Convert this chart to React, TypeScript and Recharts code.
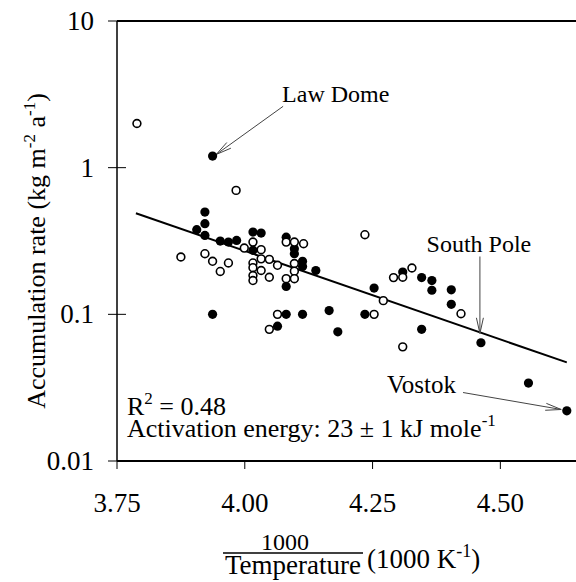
import React from 'react';
import { ScatterChart, Scatter, XAxis, YAxis, ReferenceLine } from 'recharts';

// filled circles (1000/T, accumulation)
const filledX = [3.937, 3.922, 3.922, 3.906, 3.922, 3.952, 3.968, 3.984, 4.016, 4.032, 4.016, 4.081, 4.097, 4.097, 4.113, 4.113, 4.081, 4.139, 3.937, 4.081, 4.113, 4.165, 4.235, 4.064, 4.182, 4.253, 4.309, 4.346, 4.366, 4.366, 4.404, 4.404, 4.346, 4.462, 4.555, 4.63];
const filledY = [1.2, 0.498, 0.415, 0.378, 0.345, 0.316, 0.311, 0.319, 0.364, 0.358, 0.273, 0.336, 0.28, 0.259, 0.23, 0.212, 0.155, 0.199, 0.1, 0.1, 0.1, 0.106, 0.1, 0.083, 0.076, 0.151, 0.194, 0.178, 0.17, 0.146, 0.147, 0.117, 0.079, 0.064, 0.034, 0.022];

// open circles
const openX = [3.789, 3.983, 3.999, 4.016, 4.032, 4.032, 4.048, 4.064, 4.016, 4.016, 4.016, 4.016, 4.032, 4.048, 3.875, 3.922, 3.937, 3.952, 3.968, 4.081, 4.097, 4.115, 4.097, 4.097, 4.097, 4.081, 4.235, 4.327, 4.291, 4.309, 4.423, 4.271, 4.064, 4.253, 4.048, 4.309];
const openY = [2.0, 0.7, 0.283, 0.311, 0.276, 0.239, 0.237, 0.216, 0.224, 0.208, 0.184, 0.17, 0.199, 0.179, 0.246, 0.259, 0.23, 0.196, 0.224, 0.311, 0.311, 0.303, 0.222, 0.197, 0.175, 0.175, 0.349, 0.207, 0.178, 0.179, 0.101, 0.124, 0.1, 0.1, 0.079, 0.06];

// regression line end points
const fitX = [3.787, 4.63];
const fitY = [0.489, 0.047];

const xTicks = [3.75, 4.0, 4.25, 4.5];
const yTicks = [0.01, 0.1, 1, 10];

// annotation arrows: [label, x1, y1, x2, y2]
const arrows: [string, number, number, number, number][] = [
  ['Law Dome', 4.075, 2.62, 3.944, 1.23],
  ['South Pole', 4.46, 0.248, 4.46, 0.0741],
  ['Vostok', 4.427, 0.0293, 4.619, 0.02245],
];

const filled = filledX.map((x, i) => ({ x, y: filledY[i] }));
const open = openX.map((x, i) => ({ x, y: openY[i] }));

const FONT = 'Liberation Serif, DejaVu Serif, serif';
const serif = { fontFamily: FONT };

const YTick = (props: any) => {
  const { x, y, payload } = props;
  return (
    <g>
      <line x1={x - 9} x2={x + 9} y1={y} y2={y} stroke="#000" strokeWidth={1} />
      <text x={x - 23} y={y + 9} textAnchor="end" fontSize={27} style={serif} fill="#000">
        {String(payload.value)}
      </text>
    </g>
  );
};

const XTick = (props: any) => {
  const { x, y, payload } = props;
  return (
    <g>
      <line x1={x} x2={x} y1={y} y2={y + 8} stroke="#000" strokeWidth={1} />
      <text x={x} y={y + 51} textAnchor="middle" fontSize={27} style={serif} fill="#000">
        {payload.value.toFixed(2)}
      </text>
    </g>
  );
};

const arrowShape = (label: string) => (props: any) => {
  const { x1, y1, x2, y2 } = props;
  const ang = Math.atan2(y2 - y1, x2 - x1);
  const h = 16;
  const a1 = ang + Math.PI - 0.22;
  const a2 = ang + Math.PI + 0.22;
  let tx = x1, ty = y1, anchor = 'start';
  if (label === 'Law Dome') { tx = x1 - 1; ty = y1 - 4; anchor = 'start'; }
  if (label === 'South Pole') { tx = x1 - 1; ty = y1 - 4; anchor = 'middle'; }
  if (label === 'Vostok') { tx = x1 - 7; ty = y1; anchor = 'end'; }
  return (
    <g>
      <line x1={x1} y1={y1} x2={x2} y2={y2} stroke="#444" strokeWidth={1} />
      <line x1={x2} y1={y2} x2={x2 + h * Math.cos(a1)} y2={y2 + h * Math.sin(a1)} stroke="#444" strokeWidth={1} />
      <line x1={x2} y1={y2} x2={x2 + h * Math.cos(a2)} y2={y2 + h * Math.sin(a2)} stroke="#444" strokeWidth={1} />
      <text x={tx} y={ty} textAnchor={anchor} fontSize={label === 'Vostok' ? 25 : 24} style={serif} fill="#000">
        {label}
      </text>
    </g>
  );
};

export default function App() {
  return (
    <div style={{ position: 'absolute', left: 0, top: 0, width: 576, height: 582, background: '#fff' }}>
      <ScatterChart width={576} height={582} margin={{ top: 21, right: 0, bottom: 0, left: 0 }}>
        <XAxis
          type="number"
          dataKey="x"
          domain={[3.75, 4.648]}
          ticks={xTicks}
          allowDataOverflow
          height={121}
          tickSize={0}
          tickMargin={0}
          tickLine={false}
          tick={<XTick />}
          axisLine={{ stroke: '#000', strokeWidth: 2 }}
        />
        <YAxis
          type="number"
          dataKey="y"
          scale="log"
          domain={[0.01, 10]}
          ticks={yTicks}
          allowDataOverflow
          width={117}
          tickSize={0}
          tickMargin={0}
          tickLine={false}
          tick={<YTick />}
          axisLine={{ stroke: '#000', strokeWidth: 1.5 }}
        />
        <ReferenceLine y={10} stroke="#000" strokeWidth={2} />
        <ReferenceLine
          segment={[{ x: fitX[0], y: fitY[0] }, { x: fitX[1], y: fitY[1] }]}
          stroke="#000"
          strokeWidth={2}
        />
        {arrows.map(([label, x1, y1, x2, y2]) => (
          <ReferenceLine
            key={label}
            segment={[{ x: x1, y: y1 }, { x: x2, y: y2 }]}
            shape={arrowShape(label)}
          />
        ))}
        <Scatter
          data={filled}
          isAnimationActive={false}
          shape={(p: any) => <circle cx={p.cx} cy={p.cy} r={4.6} fill="#000" />}
        />
        <Scatter
          data={open}
          isAnimationActive={false}
          shape={(p: any) => <circle cx={p.cx} cy={p.cy} r={3.9} fill="#fff" stroke="#000" strokeWidth={1.6} />}
        />
      </ScatterChart>
      <svg width={576} height={582} style={{ position: 'absolute', left: 0, top: 0, pointerEvents: 'none' }}>
        <g style={serif} fill="#000">
          <text transform="translate(45,251) rotate(-90)" textAnchor="middle" fontSize={26}>
            Accumulation rate (kg m<tspan dy={-10} fontSize={17}>-2</tspan>
            <tspan dy={10}> a</tspan>
            <tspan dy={-10} fontSize={17}>-1</tspan>
            <tspan dy={10}>)</tspan>
          </text>
          <text x={285} y={550} textAnchor="middle" fontSize={24}>1000</text>
          <line x1={223} x2={363} y1={553} y2={553} stroke="#000" strokeWidth={1.5} />
          <text x={293} y={574} textAnchor="middle" fontSize={27}>Temperature</text>
          <text x={367} y={568} fontSize={27}>
            (1000 K<tspan dy={-11} fontSize={18}>-1</tspan>
            <tspan dy={11}>)</tspan>
          </text>
          <text x={127} y={415} fontSize={26}>
            R<tspan dy={-11} fontSize={17}>2</tspan>
            <tspan dy={11}> = 0.48</tspan>
          </text>
          <text x={127} y={437} fontSize={26}>
            Activation energy: 23 ± 1 kJ mole<tspan dy={-11} fontSize={17}>-1</tspan>
          </text>
        </g>
      </svg>
    </div>
  );
}
